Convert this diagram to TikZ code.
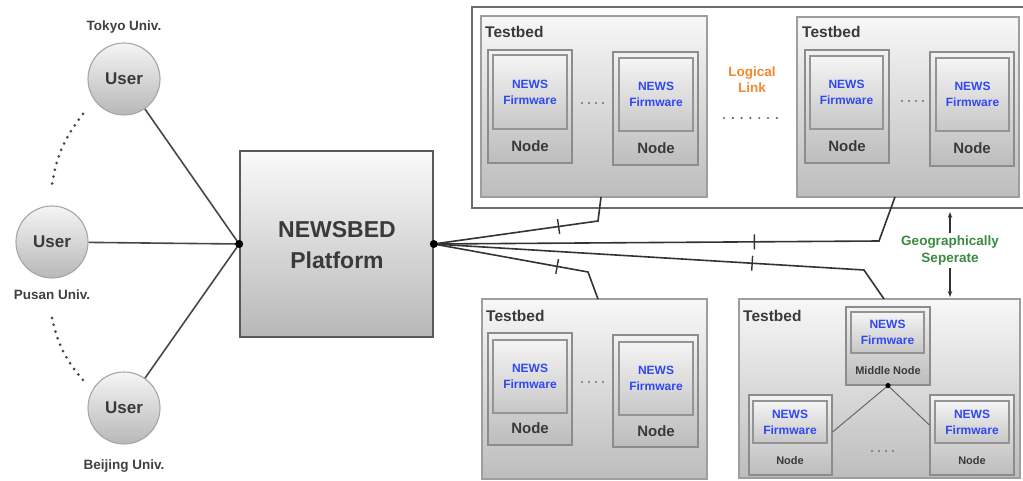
\documentclass[tikz,border=0pt]{standalone}
\usepackage{fontspec}
\setmainfont{Liberation Sans}
\usetikzlibrary{shadows,arrows.meta,fit}

\definecolor{ink}{HTML}{3A3A3A}
\definecolor{fwblue}{HTML}{2F48F2}
\definecolor{linkorange}{HTML}{F08A2C}
\definecolor{geogreen}{HTML}{3C8A40}
\definecolor{wire}{HTML}{333333}

\tikzset{
  outerframe/.style={rectangle, inner sep=0pt, draw=black!58, line width=2pt, fill=white},
  panel/.style={rectangle, inner sep=0pt, draw=black!38, line width=1.2pt,
    top color=black!3, bottom color=black!26},
  unitbox/.style={rectangle, inner sep=0pt, draw=black!45, line width=1.2pt,
    top color=black!5, bottom color=black!26,
    drop shadow={shadow xshift=0.9pt, shadow yshift=-0.9pt, opacity=0.3}},
  fwbox/.style={rectangle, inner sep=0pt, draw=black!42, line width=1.1pt,
    top color=black!4, bottom color=black!22,
    drop shadow={shadow xshift=0.6pt, shadow yshift=-0.6pt, opacity=0.25}},
  platbox/.style={rectangle, inner sep=0pt, draw=black!65, line width=1.6pt,
    top color=black!2, bottom color=black!28,
    drop shadow={shadow xshift=1pt, shadow yshift=-1pt, opacity=0.3}},
  usercircle/.style={circle, minimum size=72pt, inner sep=0pt, draw=black!35,
    line width=1.1pt, top color=black!4, bottom color=black!28,
    text=ink, font=\bfseries\fontsize{17}{20}\selectfont},
  fwtext/.style={text=fwblue, align=center, inner sep=0pt,
    font=\bfseries\fontsize{12}{16}\selectfont},
  nodetext/.style={text=ink, inner sep=0pt, font=\bfseries\fontsize{15}{18}\selectfont},
  smalltext/.style={text=ink, inner sep=0pt, font=\bfseries\fontsize{11}{13}\selectfont},
  bedtext/.style={text=ink, inner sep=0pt, anchor=west,
    font=\bfseries\fontsize{15.5}{18}\selectfont},
  unitext/.style={text=black!75, inner sep=0pt, font=\bfseries\fontsize{13.5}{16}\selectfont},
  wire/.style={draw=wire, line width=1.6pt},
  userwire/.style={draw=black!72, line width=1.6pt},
  thinwire/.style={draw=black!60, line width=1pt},
  cutmark/.style={sloped, rectangle, minimum width=0pt, minimum height=15pt,
    inner sep=0pt, draw=wire, line width=1.4pt},
  dotarc/.style={draw=black!72, line width=3pt, line cap=round,
    dash pattern=on 0pt off 7pt},
  geoarrow/.style={draw=wire, line width=1.2pt, -{Stealth[length=6pt,width=4.5pt]}},
}

\begin{document}
\begin{tikzpicture}[x=1pt,y=-1pt]
\useasboundingbox (0,0) rectangle (1023,481);
\fill[white] (0,0) rectangle (1023,481);

% ---------- users ----------
\node[usercircle] (u1) at (124,79) {User};
\node[usercircle] (u2) at (52,242) {User};
\node[usercircle] (u3) at (124,408) {User};
\node[unitext] (l1) at (124,27) {Tokyo Univ.};
\node[unitext] (l2) at (52,295) {Pusan Univ.};
\node[unitext] (l3) at (124,466) {Beijing Univ.};

\coordinate (a1s) at (83,114);
\coordinate (a1e) at (52,184);
\coordinate (a2s) at (52,318);
\coordinate (a2e) at (83,380);
\draw[dotarc] (a1s) to[bend right=14] (a1e);
\draw[dotarc] (a2s) to[bend right=14] (a2e);

% ---------- platform ----------
\node[platbox, fit={(240,151) (433,337)}] (plat) {};
\node[text=ink, align=center, font=\bfseries\fontsize{23}{31}\selectfont]
  (platlabel) at (337,245) {NEWSBED\\Platform};

\draw[userwire] (u1) -- (plat.west);
\draw[userwire] (u2) -- (plat.west);
\draw[userwire] (u3) -- (plat.west);

% ---------- group of linked testbeds ----------
\node[outerframe, fit={(472,7) (1030,208)}] (group) {};

% testbed A
\node[panel, fit={(481,16) (707,197)}] (tbA) {};
\node[bedtext] (tbAl) at (485,32) {Testbed};
\node[unitbox, fit={(488,50) (572,163)}] (A1) {};
\node[fwbox, fit={(493,55) (567,129)}] (A1f) {};
\node[fwtext] at (A1f) {NEWS\\Firmware};
\node[nodetext] (A1l) at (530,146) {Node};
\node[unitbox, fit={(613,52) (698,165)}] (A2) {};
\node[fwbox, fit={(619,58) (693,131)}] (A2f) {};
\node[fwtext] at (A2f) {NEWS\\Firmware};
\node[nodetext] (A2l) at (656,148) {Node};
\foreach \i in {0,...,3} \fill[black!55] (582+7*\i,103) circle (1.1pt);

% testbed B
\node[panel, fit={(797,17) (1019,197)}] (tbB) {};
\node[bedtext] (tbBl) at (802,32) {Testbed};
\node[unitbox, fit={(805,50) (889,163)}] (B1) {};
\node[fwbox, fit={(810,56) (883,129)}] (B1f) {};
\node[fwtext] at (B1f) {NEWS\\Firmware};
\node[nodetext] (B1l) at (847,146) {Node};
\node[unitbox, fit={(930,52) (1014,166)}] (B2) {};
\node[fwbox, fit={(936,58) (1009,131)}] (B2f) {};
\node[fwtext] at (B2f) {NEWS\\Firmware};
\node[nodetext] (B2l) at (972,148) {Node};
\foreach \i in {0,...,3} \fill[black!55] (902+7*\i,101) circle (1.1pt);

% logical link between A and B
\node[text=linkorange, align=center, font=\bfseries\fontsize{13.5}{16}\selectfont]
  (logic) at (752,80) {Logical\\Link};
\foreach \i in {0,...,6} \fill[black!60] (724+8.8*\i,118) circle (1.2pt);

% testbed C
\node[panel, fit={(482,299) (707,479)}] (tbC) {};
\node[bedtext] (tbCl) at (486,316) {Testbed};
\node[unitbox, fit={(488,333) (572,445)}] (C1) {};
\node[fwbox, fit={(493,340) (567,413)}] (C1f) {};
\node[fwtext] at (C1f) {NEWS\\Firmware};
\node[nodetext] (C1l) at (530,428) {Node};
\node[unitbox, fit={(613,335) (698,447)}] (C2) {};
\node[fwbox, fit={(619,342) (693,415)}] (C2f) {};
\node[fwtext] at (C2f) {NEWS\\Firmware};
\node[nodetext] (C2l) at (656,431) {Node};
\foreach \i in {0,...,3} \fill[black!55] (582+7*\i,382) circle (1.1pt);

% testbed D with a middle node
\node[panel, fit={(739,299) (1020,478)}] (tbD) {};
\node[bedtext] (tbDl) at (743,316) {Testbed};
\node[unitbox, fit={(846,307) (930,385)}] (D0) {};
\node[fwbox, fit={(851,312) (924,353)}] (D0f) {};
\node[fwtext] at (D0f) {NEWS\\Firmware};
\node[smalltext] (D0l) at (888,371) {Middle Node};
\node[unitbox, fit={(749,395) (832,475)}] (D1) {};
\node[fwbox, fit={(753,401) (827,443)}] (D1f) {};
\node[fwtext] at (D1f) {NEWS\\Firmware};
\node[smalltext] (D1l) at (790,461) {Node};
\node[unitbox, fit={(930,395) (1014,475)}] (D2) {};
\node[fwbox, fit={(935,401) (1009,443)}] (D2f) {};
\node[fwtext] at (D2f) {NEWS\\Firmware};
\node[smalltext] (D2l) at (972,461) {Node};
\draw[thinwire] (D0.south) -- ([yshift=3pt]D1.east);
\draw[thinwire] (D0.south) -- ([yshift=10pt]D2.west);
\fill[black] (D0.south) circle (2.6pt);
\foreach \i in {0,...,3} \fill[black!55] (872+7*\i,451) circle (1.1pt);

% ---------- platform to testbeds ----------
\coordinate (k1) at (598,221); \coordinate (e1) at (601,197);
\coordinate (k2) at (879,241); \coordinate (e2) at (895,197);
\coordinate (k3) at (588,272); \coordinate (e3) at (598,299);
\coordinate (k4) at (864,270); \coordinate (e4) at (884,299);
\draw[wire] (plat.east) -- node[cutmark, pos=.76] {} (k1) -- (e1);
\draw[wire] (plat.east) -- node[cutmark, pos=.72] {} (k2) -- (e2);
\draw[wire] (plat.east) -- node[cutmark, pos=.80] {} (k3) -- (e3);
\draw[wire] (plat.east) -- node[cutmark, pos=.74] {} (k4) -- (e4);

\fill[black] (plat.west) circle (4pt);
\fill[black] (plat.east) circle (4pt);

% ---------- geographic separation ----------
\node[text=geogreen, align=center, inner sep=1pt,
  font=\bfseries\fontsize{13.5}{17}\selectfont] (geo) at (950,250.5)
  {Geographically\\Seperate};
\coordinate (gtop) at (950,212);
\coordinate (gbot) at (950,297);
\draw[geoarrow] ([yshift=2pt]geo.north) -- (gtop);
\draw[geoarrow] ([yshift=-2pt]geo.south) -- (gbot);
\end{tikzpicture}
\end{document}
